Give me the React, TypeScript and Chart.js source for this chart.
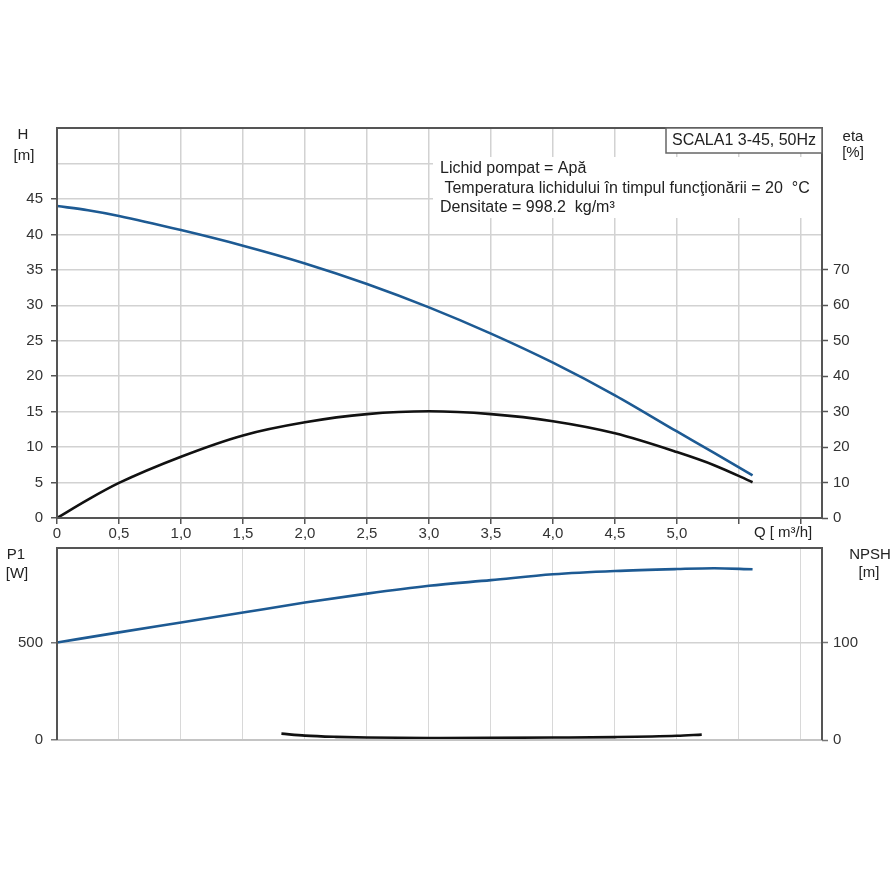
import React, { useEffect, useRef } from 'react';
import { Chart, registerables } from 'chart.js';

Chart.register(...registerables);

// pump curves
const Q_TOP = [0, 0.25, 0.5, 1.0, 1.5, 2.0, 2.5, 3.0, 3.5, 4.0, 4.5, 5.0, 5.3, 5.61];
const H_VALUES = [44.0, 43.4, 42.6, 40.6, 38.4, 35.9, 33.0, 29.7, 26.0, 21.9, 17.3, 12.2, 9.2, 6.0];
const ETA_VALUES = [0, 5.2, 9.9, 17.3, 23.3, 27.0, 29.3, 30.1, 29.3, 27.3, 23.9, 18.6, 14.9, 10.1];

const Q_P1 = [0, 0.5, 1.0, 1.5, 2.0, 2.5, 3.0, 3.5, 4.0, 4.5, 5.0, 5.3, 5.61];
const P1_VALUES = [500, 552, 603, 654, 705, 751, 791, 820, 850, 867, 877, 881, 876];

const Q_NPSH = [1.81, 2.0, 2.25, 2.5, 3.0, 3.5, 4.0, 4.5, 5.0, 5.2];
const NPSH_VALUES = [6.5, 4.5, 3.2, 2.5, 2.1, 2.2, 2.5, 3.0, 4.3, 5.5];

const Q_TICKS = [0, 0.5, 1.0, 1.5, 2.0, 2.5, 3.0, 3.5, 4.0, 4.5, 5.0, 5.5, 6.0];
const H_TICKS = [0, 5, 10, 15, 20, 25, 30, 35, 40, 45, 50];
const ETA_TICKS = [0, 10, 20, 30, 40, 50, 60, 70];
const P1_TICKS = [0, 500];
const NPSH_TICKS = [0, 100];

const Q_MAX = 6.17;
const H_MAX = 55;
const ETA_MAX = 110;
const P1_MAX = 985;
const NPSH_MAX = 197;

const INFO_LINES = [
    'Lichid pompat = Apă',
    ' Temperatura lichidului în timpul funcţionării = 20  °C',
    'Densitate = 998.2  kg/m³',
];
const TITLE = 'SCALA1 3-45, 50Hz';

const BLUE = '#1d5a93';
const BLACK = '#111111';
const GRID = '#d2d2d2';
const DARK = '#555555';
const TEXT = '#222222';
const FONT = 'Liberation Sans';

const pts = (xs: number[], ys: number[]) => xs.map((x, i) => ({ x, y: ys[i] }));

const fixTicks = (values: number[]) => (scale: any) => {
    scale.ticks = values.map(v => ({ value: v }));
};

const qLabel = (v: any) => {
    const n = Number(v);
    if (n > 5.01) return '';
    return n === 0 ? '0' : n.toFixed(1).replace('.', ',');
};

const drawText = (ctx: CanvasRenderingContext2D, s: string, x: number, y: number, align: CanvasTextAlign, size = 15) => {
    ctx.font = `${size}px "${FONT}"`;
    ctx.fillStyle = TEXT;
    ctx.textAlign = align;
    ctx.textBaseline = 'middle';
    ctx.fillText(s, x, y);
};

const topDecor = {
    id: 'topDecor',
    beforeDatasetsDraw(chart: any) {
        const { ctx, chartArea: a } = chart;
        ctx.save();
        ctx.fillStyle = '#ffffff';
        ctx.fillRect(a.left + 376, a.top + 29, a.right - a.left - 377, 61);
        ctx.restore();
    },
    afterDraw(chart: any) {
        const { ctx, chartArea: a, scales } = chart;
        ctx.save();
        ctx.strokeStyle = DARK;
        ctx.lineWidth = 2;
        ctx.strokeRect(a.left, a.top, a.right - a.left, a.bottom - a.top);

        // title box in the top right corner
        ctx.fillStyle = '#ffffff';
        ctx.fillRect(a.right - 156, a.top, 156, 25);
        ctx.strokeStyle = '#666666';
        ctx.lineWidth = 1.5;
        ctx.strokeRect(a.right - 156, a.top, 156, 25);
        drawText(ctx, TITLE, a.right - 78, a.top + 13, 'center', 16);

        drawText(ctx, INFO_LINES[0], a.left + 383, a.top + 41, 'left', 16);
        drawText(ctx, INFO_LINES[1], a.left + 383, a.top + 61, 'left', 16);
        drawText(ctx, INFO_LINES[2], a.left + 383, a.top + 80, 'left', 16);

        drawText(ctx, 'H', 23, a.top + 7, 'center');
        drawText(ctx, '[m]', 24, a.top + 28, 'center');
        drawText(ctx, 'eta', a.right + 31, a.top + 9, 'center');
        drawText(ctx, '[%]', a.right + 31, a.top + 25, 'center');

        const x55 = scales.x.getPixelForValue(5.5);
        drawText(ctx, 'Q [ m³/h]', x55 + 15, a.bottom + 15, 'left');
        ctx.restore();
    },
};

const bottomDecor = {
    id: 'bottomDecor',
    afterDraw(chart: any) {
        const { ctx, chartArea: a } = chart;
        ctx.save();
        ctx.strokeStyle = '#c4c4c4';
        ctx.lineWidth = 2;
        ctx.beginPath();
        ctx.moveTo(a.left, a.bottom);
        ctx.lineTo(a.right, a.bottom);
        ctx.stroke();
        ctx.strokeStyle = DARK;
        ctx.beginPath();
        ctx.moveTo(a.left, a.bottom);
        ctx.lineTo(a.left, a.top);
        ctx.lineTo(a.right, a.top);
        ctx.lineTo(a.right, a.bottom);
        ctx.stroke();

        drawText(ctx, 'P1', 16, a.top + 7, 'center');
        drawText(ctx, '[W]', 17, a.top + 26, 'center');
        drawText(ctx, 'NPSH', a.right + 48, a.top + 7, 'center');
        drawText(ctx, '[m]', a.right + 47, a.top + 25, 'center');
        ctx.restore();
    },
};

const tickFont = { family: FONT, size: 15 };

const TopChart = () => {
    const ref = useRef<HTMLCanvasElement | null>(null);
    useEffect(() => {
        if (!ref.current) return;
        const chart = new Chart(ref.current, {
            type: 'line',
            data: {
                datasets: [
                    {
                        label: 'H',
                        data: pts(Q_TOP, H_VALUES),
                        borderColor: BLUE,
                        borderWidth: 2.6,
                        pointRadius: 0,
                        cubicInterpolationMode: 'monotone',
                        yAxisID: 'y',
                    },
                    {
                        label: 'eta',
                        data: pts(Q_TOP, ETA_VALUES),
                        borderColor: BLACK,
                        borderWidth: 2.6,
                        pointRadius: 0,
                        cubicInterpolationMode: 'monotone',
                        yAxisID: 'y2',
                    },
                ],
            },
            options: {
                animation: false,
                responsive: false,
                layout: { padding: { top: 128, left: 0, right: 0, bottom: 0 } },
                plugins: { legend: { display: false }, tooltip: { enabled: false } },
                scales: {
                    x: {
                        type: 'linear',
                        min: 0,
                        max: Q_MAX,
                        afterBuildTicks: fixTicks(Q_TICKS),
                        afterFit: (s: any) => { s.height = 27; },
                        border: { display: false },
                        grid: { color: GRID, lineWidth: 1.5, tickColor: DARK, tickLength: 6, tickWidth: 1.5 },
                        ticks: { callback: qLabel, padding: 1, color: '#333', font: tickFont, maxRotation: 0, autoSkip: false },
                    },
                    y: {
                        position: 'left',
                        min: 0,
                        max: H_MAX,
                        afterBuildTicks: fixTicks(H_TICKS),
                        afterFit: (s: any) => { s.width = 57; },
                        border: { display: false },
                        grid: {
                            color: GRID,
                            lineWidth: 1.5,
                            tickLength: 6,
                            tickWidth: 1.5,
                            tickColor: (c: any) => (c.tick && c.tick.value > 45 ? 'rgba(0,0,0,0)' : DARK),
                        },
                        ticks: {
                            callback: (v: any) => (Number(v) > 45 ? '' : String(v)),
                            padding: 8,
                            color: '#333',
                            font: tickFont,
                        },
                    },
                    y2: {
                        position: 'right',
                        min: 0,
                        max: ETA_MAX,
                        afterBuildTicks: fixTicks(ETA_TICKS),
                        afterFit: (s: any) => { s.width = 73; },
                        border: { display: false },
                        grid: { drawOnChartArea: false, tickColor: DARK, tickLength: 6, tickWidth: 1.5 },
                        ticks: { padding: 5, color: '#333', font: tickFont },
                    },
                },
            },
            plugins: [topDecor],
        } as any);
        return () => chart.destroy();
    }, []);
    return <canvas ref={ref} width={895} height={545} style={{ position: 'absolute', left: 0, top: 0 }} />;
};

const BottomChart = () => {
    const ref = useRef<HTMLCanvasElement | null>(null);
    useEffect(() => {
        if (!ref.current) return;
        const chart = new Chart(ref.current, {
            type: 'line',
            data: {
                datasets: [
                    {
                        label: 'P1',
                        data: pts(Q_P1, P1_VALUES),
                        borderColor: BLUE,
                        borderWidth: 2.6,
                        pointRadius: 0,
                        cubicInterpolationMode: 'monotone',
                        yAxisID: 'y',
                    },
                    {
                        label: 'NPSH',
                        data: pts(Q_NPSH, NPSH_VALUES),
                        borderColor: BLACK,
                        borderWidth: 2.6,
                        pointRadius: 0,
                        cubicInterpolationMode: 'monotone',
                        yAxisID: 'y2',
                    },
                ],
            },
            options: {
                animation: false,
                responsive: false,
                layout: { padding: { top: 28, left: 0, right: 0, bottom: 0 } },
                plugins: { legend: { display: false }, tooltip: { enabled: false } },
                scales: {
                    x: {
                        type: 'linear',
                        min: 0,
                        max: Q_MAX,
                        afterBuildTicks: fixTicks(Q_TICKS),
                        afterFit: (s: any) => { s.height = 155; },
                        border: { display: false },
                        grid: { color: '#d8d8d8', lineWidth: 1, drawTicks: false },
                        ticks: { display: false },
                    },
                    y: {
                        position: 'left',
                        min: 0,
                        max: P1_MAX,
                        afterBuildTicks: fixTicks(P1_TICKS),
                        afterFit: (s: any) => { s.width = 57; },
                        border: { display: false },
                        grid: { color: GRID, lineWidth: 1.5, tickColor: '#777', tickLength: 6, tickWidth: 1.5 },
                        ticks: { padding: 8, color: '#333', font: tickFont },
                    },
                    y2: {
                        position: 'right',
                        min: 0,
                        max: NPSH_MAX,
                        afterBuildTicks: fixTicks(NPSH_TICKS),
                        afterFit: (s: any) => { s.width = 73; },
                        border: { display: false },
                        grid: { drawOnChartArea: false, tickColor: '#777', tickLength: 6, tickWidth: 1.5 },
                        ticks: { padding: 5, color: '#333', font: tickFont },
                    },
                },
            },
            plugins: [bottomDecor],
        } as any);
        return () => chart.destroy();
    }, []);
    return <canvas ref={ref} width={895} height={375} style={{ position: 'absolute', left: 0, top: 520 }} />;
};

const App = () => (
    <div style={{ position: 'absolute', left: 0, top: 0, width: 895, height: 895, background: '#fff' }}>
        <TopChart />
        <BottomChart />
    </div>
);

export default App;
